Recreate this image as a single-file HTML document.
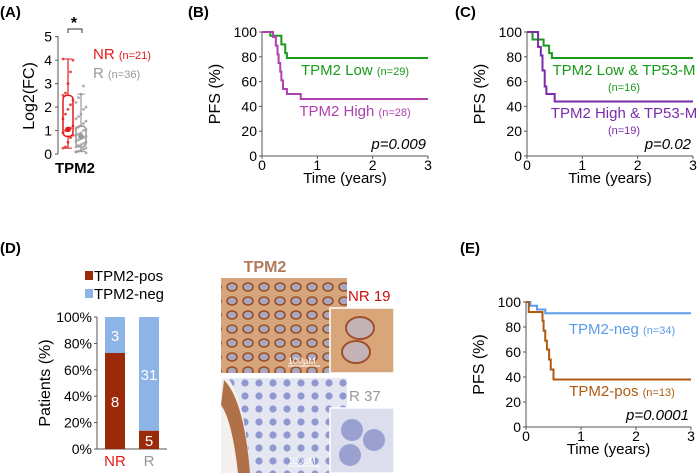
<!DOCTYPE html>
<html><head><meta charset="utf-8"><style>
body{margin:0;background:#fff;}
svg{display:block;font-family:"Liberation Sans",Arial,sans-serif;}
</style></head><body>
<svg id="fig" width="698" height="473" viewBox="0 0 698 473">
<defs>
<pattern id="brownCells" width="16" height="14" patternUnits="userSpaceOnUse">
<rect width="16" height="14" fill="#d6a57c"/>
<ellipse cx="8" cy="7" rx="5" ry="4" fill="#a9a8c0" stroke="#9a4f26" stroke-width="1.6"/>
</pattern>
<pattern id="blueCells" width="14" height="13" patternUnits="userSpaceOnUse">
<rect width="14" height="13" fill="#e4e6f2"/>
<circle cx="7" cy="6" r="3.6" fill="#8f98cf"/>
</pattern>
</defs>
<g font-weight="bold" font-size="15" fill="#000">
<text x="0" y="17">(A)</text>
<text x="188" y="17">(B)</text>
<text x="455" y="17">(C)</text>
<text x="0" y="253">(D)</text>
<text x="460" y="253">(E)</text>
</g>
<g id="A"></g><g id="B"></g><g id="C"></g><g id="D"></g><g id="E"></g>
<g id="ihc">
<text x="265" y="272" text-anchor="middle" font-size="16" font-weight="bold" fill="#b07a5c">TPM2</text>
<rect x="221" y="278" width="126" height="95" fill="url(#brownCells)"/>
<rect x="330" y="308" width="64" height="65" fill="#d9a67a" stroke="#fff" stroke-width="1.5"/>
<ellipse cx="360" cy="328" rx="14" ry="11" fill="#c4b4b8" stroke="#a0502a" stroke-width="2"/>
<ellipse cx="356" cy="352" rx="14" ry="11" fill="#c4b4b8" stroke="#a0502a" stroke-width="2"/>
<text x="348" y="301" font-size="15" fill="#cc1010">NR 19</text>
<rect x="221" y="378" width="126" height="95" fill="url(#blueCells)"/>
<path d="M221 378 L228 378 Q245 400 250 473 L221 473Z" fill="#f4f0ee"/>
<path d="M224 380 Q244 400 250 473 L238 473 Q232 420 221 405Z" fill="#b07048"/>
<rect x="330" y="408" width="64" height="65" fill="#dcdeee" stroke="#fff" stroke-width="1.5"/>
<circle cx="352" cy="430" r="11" fill="#9aa0d0"/>
<circle cx="374" cy="440" r="11" fill="#9aa0d0"/>
<circle cx="350" cy="455" r="11" fill="#9aa0d0"/>
<text x="349" y="401" font-size="15" fill="#999">R 37</text>
<text x="288" y="364" font-size="9" fill="#fff">100µM</text>
<line x1="288" y1="366" x2="320" y2="366" stroke="#fff"/>
<text x="288" y="464" font-size="9" fill="#fff">100µM</text>
<line x1="288" y1="466" x2="320" y2="466" stroke="#fff"/>
</g>
</svg>
<script>
// ---------- Panel A data ----------
const aYTicks = [0,1,2,3,4,5];
const aNRPoints = [0.25,0.3,0.5,0.7,0.8,0.9,1.0,1.05,1.1,1.2,1.5,1.7,1.9,2.1,2.3,2.5,2.6,3.0,3.5,4.0,4.05];
const aRPoints = [0.1,0.12,0.15,0.2,0.25,0.3,0.35,0.4,0.45,0.5,0.55,0.6,0.65,0.7,0.75,0.8,0.85,0.9,1.0,1.05,1.1,1.15,1.2,1.3,1.4,1.5,1.6,1.7,1.9,2.0,2.2,2.4,2.55,2.9,0.05,0.08];
const aNRBox = [0.25,0.75,1.05,2.5,4.05];
const aRBox = [0.1,0.3,0.75,1.2,2.55];
const aNRMean = 1.05, aRMean = 0.75;

// ---------- KM data ----------
const bLowT=[0,0.15,0.35,0.42,0.45,3], bLowS=[100,97,90,83,79,79];
const bHighT=[0,0.2,0.25,0.28,0.3,0.33,0.35,0.38,0.45,0.7,3], bHighS=[100,96,89,82,75,68,61,54,50,46,46];
const cLowT=[0,0.1,0.3,0.4,0.45,3], cLowS=[100,94,89,83,79,79];
const cHighT=[0,0.2,0.25,0.28,0.32,0.35,0.5,3], cHighS=[100,88,81,69,56,50,44,44];
const eNegT=[0,0.08,0.2,0.35,3], eNegS=[100,97,94,91,91];
const ePosT=[0,0.05,0.3,0.32,0.35,0.38,0.42,0.45,0.5,3], ePosS=[100,92,85,77,69,62,54,46,38,38];
const kmYTicks=[0,20,40,60,80,100];
const kmXTicks=[0,1,2,3];

// ---------- Panel D data ----------
const dCats=['NR','R'];
const dPos=[8,5];
const dNeg=[3,31];
const dYTicks=[0,20,40,60,80,100];

const NS='http://www.w3.org/2000/svg';
function mk(parent,tag,attrs,text){const e=document.createElementNS(NS,tag);for(const k in attrs)e.setAttribute(k,attrs[k]);if(text!==undefined)e.textContent=text;parent.appendChild(e);return e;}

// Panel A
(function(){
const g=document.getElementById('A');
const y=v=>154-(v/5)*117.3;
const ax=mk(g,'line',{x1:58,y1:36,x2:58,y2:154,stroke:'#555'});

aYTicks.forEach(t=>{
 const l=mk(g,'line',{x1:55,x2:58,y1:y(t),y2:y(t),stroke:'#555'});
 
 const tx=mk(g,'text',{x:52,y:y(t)+5,'text-anchor':'end','font-size':14},t);
 
});
const yt=mk(g,'text',{x:0,y:0,transform:'translate(34,96) rotate(-90)','text-anchor':'middle','font-size':16},'Log2(FC)');

const xt=mk(g,'text',{x:75,y:173,'text-anchor':'middle','font-size':15,'font-weight':'bold'},'TPM2');

function box(cx,b,mean,col,pts,name){
 const w=mk(g,'line',{x1:cx,x2:cx,y1:y(b[0]),y2:y(b[4]),stroke:col,'stroke-width':1.2});
 
 [b[0],b[4]].forEach(v=>{const c=mk(g,'line',{x1:cx-4,x2:cx+4,y1:y(v),y2:y(v),stroke:col});});
 const r=mk(g,'rect',{x:cx-5,y:y(b[3]),width:10,height:y(b[1])-y(b[3]),rx:4,fill:'#fff',stroke:col,'stroke-width':1.5});
 
 pts.forEach((v,i)=>{const p=mk(g,'circle',{cx:cx+((i%5)-2)*2.5,cy:y(v),r:1.4,fill:col,opacity:0.8});});
 const m=mk(g,'circle',{cx:cx,cy:y(mean),r:2.8,fill:col});
}
box(68,aNRBox,aNRMean,'#e41a1a',aNRPoints,'nr');
box(81,aRBox,aRMean,'#999',aRPoints,'r');
const br=mk(g,'path',{d:'M68 33 V29 H82 V33',fill:'none',stroke:'#333'});
const st=mk(g,'text',{x:74,y:28,'text-anchor':'middle','font-size':16,'font-weight':'bold'},'*');
const l1=mk(g,'text',{x:93,y:59,'font-size':15,fill:'#e41a1a'});l1.innerHTML='NR <tspan font-size="11">(n=21)</tspan>';
const l2=mk(g,'text',{x:93,y:78,'font-size':15,fill:'#999'});l2.innerHTML='R <tspan font-size="11">(n=36)</tspan>';
})();

function km(gid,x0,x1,y0,y1,series,labels,pval,ytitle){
const g=document.getElementById(gid);
const X=t=>x0+(t/3)*(x1-x0), Y=s=>y1-(s/100)*(y1-y0);
const ax=mk(g,'path',{d:`M${x0} ${y0} V${y1} H${x1}`,fill:'none',stroke:'#555'});
kmYTicks.forEach(t=>{const l=mk(g,'line',{x1:x0-3,x2:x0,y1:Y(t),y2:Y(t),stroke:'#555'});
 const tx=mk(g,'text',{x:x0-5,y:Y(t)+5,'text-anchor':'end','font-size':14},t);});
kmXTicks.forEach(t=>{const l=mk(g,'line',{x1:X(t),x2:X(t),y1:y1,y2:y1+3,stroke:'#555'});
 const tx=mk(g,'text',{x:X(t),y:y1+14,'text-anchor':'middle','font-size':14},t);});
const xt=mk(g,'text',{x:(x0+x1)/2,y:y1+27,'text-anchor':'middle','font-size':15},'Time (years)');
const yt=mk(g,'text',{x:0,y:0,transform:`translate(${ytitle},${(y0+y1)/2}) rotate(-90)`,'text-anchor':'middle','font-size':16},'PFS (%)');
series.forEach(s=>{let d=`M${X(s.t[0])} ${Y(s.s[0])}`;for(let i=1;i<s.t.length;i++){d+=` H${X(s.t[i])} V${Y(s.s[i])}`;}
 const p=mk(g,'path',{d:d,fill:'none',stroke:s.c,'stroke-width':2});});
labels.forEach(l=>{const t=mk(g,'text',{x:l.x,y:l.y,'text-anchor':'middle','font-size':l.fs||15,fill:l.c});t.innerHTML=l.h;});
const pv=mk(g,'text',{x:x1-2,y:y1-7,'text-anchor':'end','font-size':15,'font-style':'italic'},pval);
}
km('B',262,428,32,156,[{t:bLowT,s:bLowS,c:'#1a9a1a',n:'tpm2-low-curve'},{t:bHighT,s:bHighS,c:'#b040b0',n:'tpm2-high-curve'}],
 [{x:355,y:75,c:'#1a9a1a',h:'TPM2 Low <tspan font-size="11">(n=29)</tspan>',n:'legend-tpm2-low'},{x:355,y:116,c:'#b040b0',h:'TPM2 High <tspan font-size="11">(n=28)</tspan>',n:'legend-tpm2-high'}],'p=0.009',220);
km('C',527,693,32,156,[{t:cLowT,s:cLowS,c:'#1a9a1a',n:'tpm2-low-tp53-curve'},{t:cHighT,s:cHighS,c:'#7a2aaa',n:'tpm2-high-tp53-curve'}],
 [{x:624,y:75,c:'#1a9a1a',h:'TPM2 Low &amp; TP53-M',n:'legend-low-tp53'},{x:624,y:91,c:'#1a9a1a',fs:11,h:'(n=16)',n:'legend-low-tp53-n'},{x:624,y:118,c:'#7a2aaa',h:'TPM2 High &amp; TP53-M',n:'legend-high-tp53'},{x:624,y:134,c:'#7a2aaa',fs:11,h:'(n=19)',n:'legend-high-tp53-n'}],'p=0.02',485);
km('E',526,691,302,427,[{t:eNegT,s:eNegS,c:'#5b9bea',n:'tpm2-neg-curve'},{t:ePosT,s:ePosS,c:'#b05a10',n:'tpm2-pos-curve'}],
 [{x:622,y:334,c:'#5b9bea',h:'TPM2-neg <tspan font-size="11">(n=34)</tspan>',n:'legend-tpm2-neg'},{x:622,y:396,c:'#b05a10',h:'TPM2-pos <tspan font-size="11">(n=13)</tspan>',n:'legend-tpm2-pos'}],'p=0.0001',484);

// Panel D
(function(){
const g=document.getElementById('D');
const y0=317,y1=449,Y=v=>y1-(v/100)*(y1-y0);
const ax=mk(g,'path',{d:`M97 ${y0} V${y1} H167`,fill:'none',stroke:'#555'});
dYTicks.forEach(t=>{const l=mk(g,'line',{x1:94,x2:97,y1:Y(t),y2:Y(t),stroke:'#555'});
 const tx=mk(g,'text',{x:92,y:Y(t)+5,'text-anchor':'end','font-size':14},t+'%');});
const yt=mk(g,'text',{x:0,y:0,transform:`translate(50,383) rotate(-90)`,'text-anchor':'middle','font-size':16},'Patients (%)');
const bx=[105,139],cols=['#e41a1a','#999'];
dCats.forEach((c,i)=>{const tot=dPos[i]+dNeg[i];const pp=dPos[i]/tot*100;
 const r1=mk(g,'rect',{x:bx[i],y:Y(pp),width:20,height:y1-Y(pp),fill:'#9b2a08'});
 const r2=mk(g,'rect',{x:bx[i],y:y0,width:20,height:Y(pp)-y0,fill:'#8db4e6'});
 const t1=mk(g,'text',{x:bx[i]+10,y:(Y(pp)+y1)/2+6,'text-anchor':'middle','font-size':15,fill:'#fff'},dPos[i]);
 const t2=mk(g,'text',{x:bx[i]+10,y:(Y(pp)+y0)/2+6,'text-anchor':'middle','font-size':15,fill:'#fff'},dNeg[i]);
 const xl=mk(g,'text',{x:bx[i]+10,y:466,'text-anchor':'middle','font-size':15,fill:cols[i]},c);
});
const k1=mk(g,'rect',{x:85,y:271,width:8,height:9,fill:'#9b2a08'});
const k2=mk(g,'text',{x:94,y:281,'font-size':15},'TPM2-pos');
const k3=mk(g,'rect',{x:85,y:289,width:8,height:9,fill:'#8db4e6'});
const k4=mk(g,'text',{x:94,y:299,'font-size':15},'TPM2-neg');
})();
</script>
</body></html>
